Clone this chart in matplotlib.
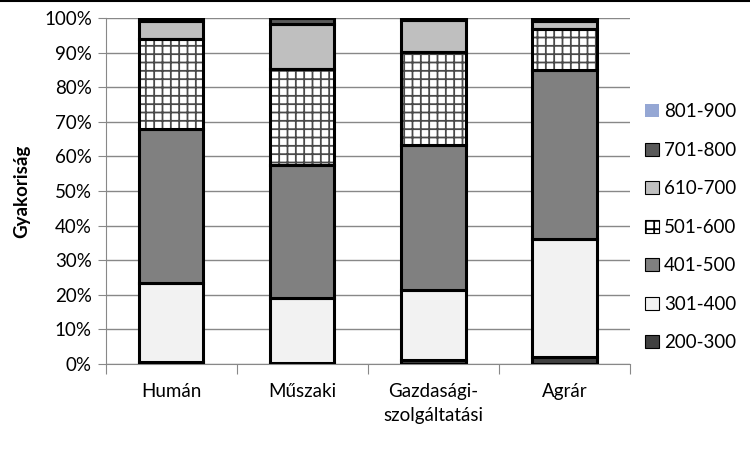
import numpy as np
import matplotlib
matplotlib.use("Agg")
import matplotlib.pyplot as plt
from matplotlib.patches import Patch

plt.rcParams['font.family'] = ['Lato', 'DejaVu Sans']
plt.rcParams['hatch.linewidth'] = 1.3

# data (percent of each category)
categories = ['Humán', 'Műszaki', 'Gazdasági-\nszolgáltatási', 'Agrár']
bands = ['200-300', '301-400', '401-500', '501-600', '610-700', '701-800', '801-900']
v_200_300 = [0.7, 0.4, 1.2, 2.1]
v_301_400 = [22.8, 18.6, 20.3, 34.1]
v_401_500 = [44.4, 38.4, 41.7, 48.8]
v_501_600 = [26.0, 28.0, 27.1, 11.8]
v_610_700 = [5.1, 13.0, 9.0, 2.2]
v_701_800 = [1.0, 1.6, 0.7, 1.0]
v_801_900 = [0.0, 0.0, 0.0, 0.0]

series = [v_200_300, v_301_400, v_401_500, v_501_600, v_610_700, v_701_800, v_801_900]
colors = ['#404040', '#f2f2f2', '#808080', 'white', '#bfbfbf', '#595959', '#95a7d4']
hatches = [None, None, None, '++', None, None, None]

fs = 13.5

fig = plt.figure(figsize=(7.5, 4.5), dpi=100)
ax = fig.add_axes([0.141, 0.191, 0.699, 0.769])

x = np.arange(len(categories))
w = 0.49
bottom = np.zeros(len(categories))
for vals, col, h in zip(series, colors, hatches):
    vals = np.array(vals)
    if h:
        # hatch in gray, then black outline on top
        ax.bar(x, vals, w, bottom=bottom, color=col, edgecolor='#4a4a4a', hatch=h, linewidth=0, zorder=3)
        ax.bar(x, vals, w, bottom=bottom, fill=False, edgecolor='black', linewidth=2.2, zorder=4)
    else:
        ax.bar(x, vals, w, bottom=bottom, color=col, edgecolor='black', linewidth=2.2, zorder=3)
    bottom += vals

ax.set_xlim(-0.5, 3.5)
ax.set_ylim(0, 100)
ax.set_yticks(np.arange(0, 101, 10))
ax.set_yticklabels([f'{t}%' for t in range(0, 101, 10)], fontsize=fs)
ax.yaxis.grid(True, color='#888888', linewidth=1, zorder=0)
ax.set_axisbelow(True)

ax.set_xticks(np.arange(-0.5, 4, 1), minor=False)
ax.set_xticklabels([])
ax.set_xticks(x, minor=True)
ax.set_xticklabels(categories, minor=True, fontsize=fs, linespacing=1.45)
ax.tick_params(axis='x', which='major', length=7, color='#888888', direction='out')
ax.tick_params(axis='x', which='minor', length=0, pad=14)
ax.tick_params(axis='y', length=6, color='#888888', pad=4)

for s in ['top', 'right']:
    ax.spines[s].set_visible(False)
ax.spines['left'].set_color('#888888')
ax.spines['bottom'].set_color('#888888')

ax.set_ylabel('Gyakoriság', fontsize=fs, fontweight='bold', labelpad=10)

handles = []
for lab, col, h in zip(bands, colors, hatches):
    ec = 'none' if lab == '801-900' else 'black'
    handles.append(Patch(facecolor=col, edgecolor=ec, hatch=h, linewidth=0.8, label=lab))
leg = fig.legend(handles[::-1], bands[::-1], loc='center left', bbox_to_anchor=(0.838, 0.495),
                 frameon=False, fontsize=fs, handlelength=0.7, handleheight=0.7,
                 handletextpad=0.3, labelspacing=1.15)

# thin frame line along the top edge
fig.add_artist(plt.Line2D([0, 1], [0.998, 0.998], color='black', linewidth=1.5, transform=fig.transFigure))

fig.savefig('out.png', dpi=100)
